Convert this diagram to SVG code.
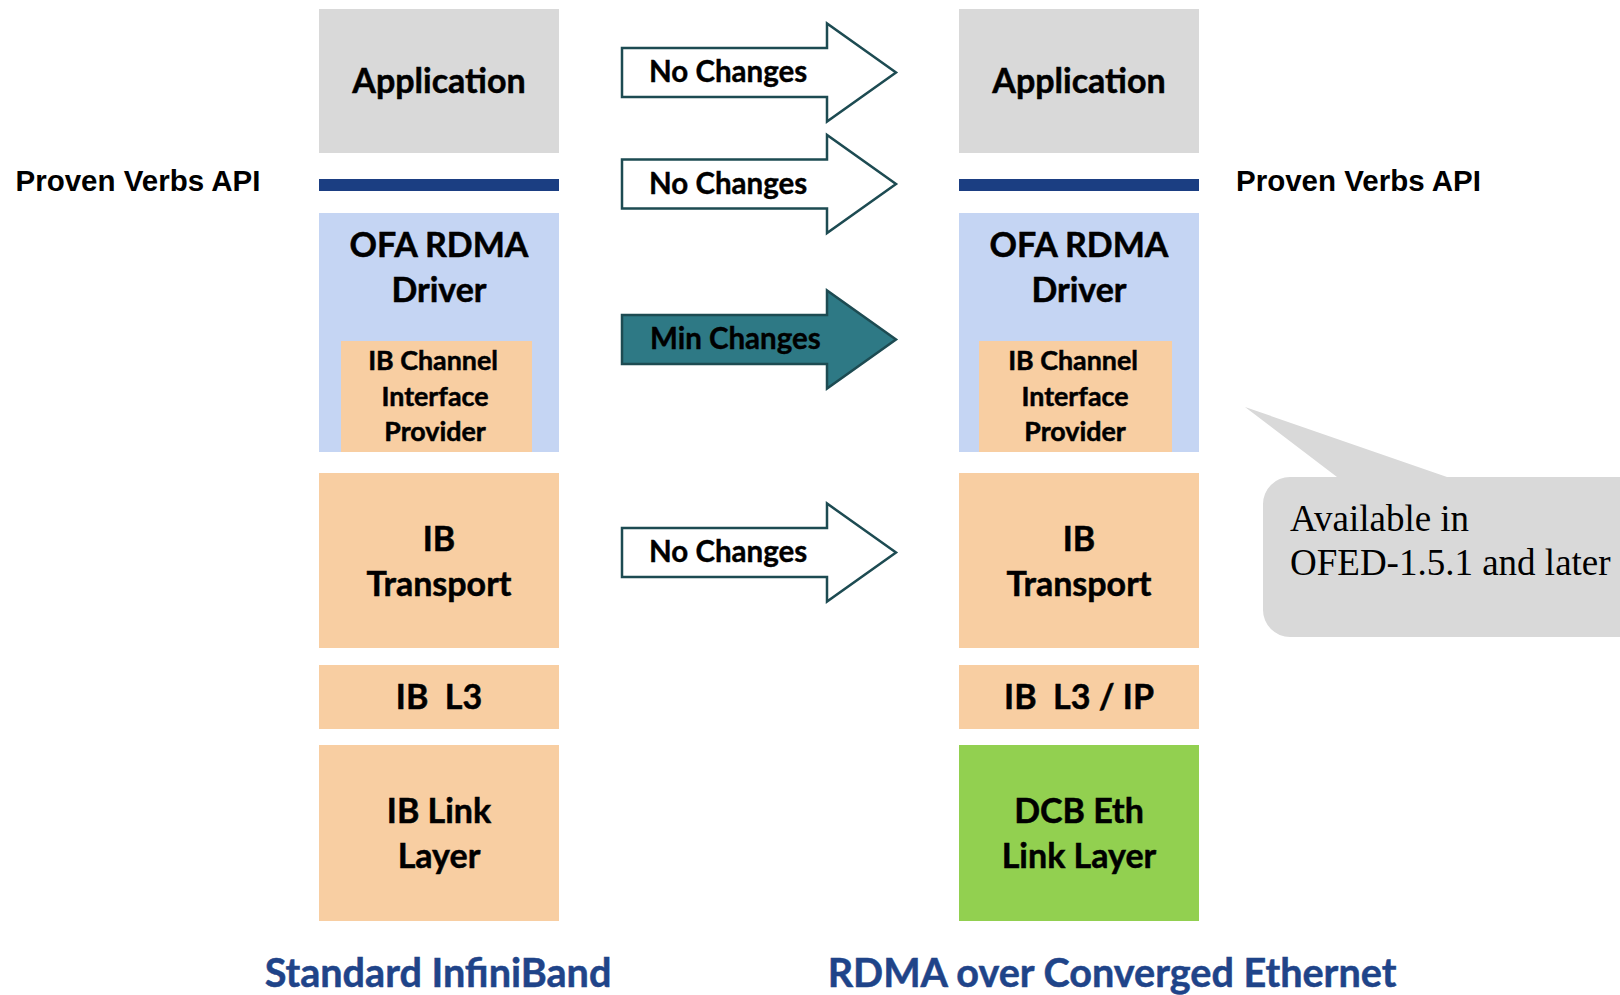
<svg xmlns="http://www.w3.org/2000/svg" width="1620" height="995" viewBox="0 0 1620 995">
  <style>
    .lbl { font-family: Lato, "Open Sans", sans-serif; font-weight: 700; fill: #000; stroke: #000; stroke-width: 0.5; text-anchor: middle; }
    .big { font-size: 34px; }
    .small { font-size: 26.8px; }
    .arw { font-family: Lato, "Open Sans", sans-serif; font-weight: 700; font-size: 29.5px; fill: #000; stroke: #000; stroke-width: 0.4; }
    .api { font-family: "Liberation Sans", Arial, sans-serif; font-weight: 700; font-size: 29.5px; fill: #000; }
    .cap { font-family: Lato, "Open Sans", sans-serif; font-weight: 700; font-size: 39.6px; fill: #1F4489; stroke: #1F4489; stroke-width: 0.5; text-anchor: middle; }
    .note { font-family: "Liberation Serif", "Times New Roman", serif; font-size: 37px; fill: #000; }
    .gray { fill: #D9D9D9; }
    .blue { fill: #C5D5F3; }
    .peach { fill: #F8CEA2; }
    .green { fill: #92D050; }
    .bar { fill: #1B3E82; }
    .open { fill: #FFFFFF; stroke: #1D4B52; stroke-width: 2.5; }
    .solid { fill: #2E7985; stroke: #1D4B52; stroke-width: 2.5; }
  </style>
  <defs>
    <!-- block arrow centred on y=0 -->
    <path id="blockArrow" d="M622,-24.5 L827,-24.5 L827,-49 L896,0 L827,49 L827,24.5 L622,24.5 Z"/>
  </defs>

  <!-- API labels -->
  <text class="api" x="15.5" y="191">Proven Verbs API</text>
  <text class="api" x="1236" y="191">Proven Verbs API</text>

  <!-- Standard InfiniBand stack -->
  <g id="ib-application">
    <rect class="gray" x="319" y="9" width="240" height="144"/>
    <text class="lbl big" x="439" y="93">Application</text>
  </g>
  <g id="ib-verbs-bar">
    <rect class="bar" x="319" y="179" width="240" height="12"/>
  </g>
  <g id="ib-ofa-driver">
    <rect class="blue" x="319" y="213" width="240" height="239"/>
    <text class="lbl big" x="439" y="257">OFA RDMA</text>
    <text class="lbl big" x="439" y="302">Driver</text>
  </g>
  <g id="ib-channel-provider">
    <rect class="peach" x="341" y="341" width="191" height="111"/>
    <text class="lbl small" x="433" y="370">IB Channel</text>
    <text class="lbl small" x="435" y="406">Interface</text>
    <text class="lbl small" x="435" y="441">Provider</text>
  </g>
  <g id="ib-transport">
    <rect class="peach" x="319" y="473" width="240" height="175"/>
    <text class="lbl big" x="439" y="551">IB</text>
    <text class="lbl big" x="439" y="596">Transport</text>
  </g>
  <g id="ib-l3">
    <rect class="peach" x="319" y="665" width="240" height="64"/>
    <text class="lbl big" x="439" y="709" xml:space="preserve">IB  L3</text>
  </g>
  <g id="ib-link-layer">
    <rect class="peach" x="319" y="745" width="240" height="176"/>
    <text class="lbl big" x="439" y="823">IB Link</text>
    <text class="lbl big" x="439" y="868">Layer</text>
  </g>

  <!-- RoCE stack -->
  <g id="roce-application">
    <rect class="gray" x="959" y="9" width="240" height="144"/>
    <text class="lbl big" x="1079" y="93">Application</text>
  </g>
  <g id="roce-verbs-bar">
    <rect class="bar" x="959" y="179" width="240" height="12"/>
  </g>
  <g id="roce-ofa-driver">
    <rect class="blue" x="959" y="213" width="240" height="239"/>
    <text class="lbl big" x="1079" y="257">OFA RDMA</text>
    <text class="lbl big" x="1079" y="302">Driver</text>
  </g>
  <g id="roce-channel-provider">
    <rect class="peach" x="979" y="341" width="193" height="111"/>
    <text class="lbl small" x="1073" y="370">IB Channel</text>
    <text class="lbl small" x="1075" y="406">Interface</text>
    <text class="lbl small" x="1075" y="441">Provider</text>
  </g>
  <g id="roce-transport">
    <rect class="peach" x="959" y="473" width="240" height="175"/>
    <text class="lbl big" x="1079" y="551">IB</text>
    <text class="lbl big" x="1079" y="596">Transport</text>
  </g>
  <g id="roce-l3-ip">
    <rect class="peach" x="959" y="665" width="240" height="64"/>
    <text class="lbl big" x="1079" y="709" xml:space="preserve">IB  L3 / IP</text>
  </g>
  <g id="roce-link-layer">
    <rect class="green" x="959" y="745" width="240" height="176"/>
    <text class="lbl big" x="1079" y="823">DCB Eth</text>
    <text class="lbl big" x="1079" y="868">Link Layer</text>
  </g>

  <!-- change arrows between the stacks -->
  <g id="connectors">
    <use href="#blockArrow" class="open" transform="translate(0,72.5)"/>
    <text class="arw" x="649" y="82">No Changes</text>
    <use href="#blockArrow" class="open" transform="translate(0,184)"/>
    <text class="arw" x="649" y="194">No Changes</text>
    <use href="#blockArrow" class="solid" transform="translate(0,339.5)"/>
    <text class="arw" x="650" y="349">Min Changes</text>
    <use href="#blockArrow" class="open" transform="translate(0,552.5)"/>
    <text class="arw" x="649" y="562">No Changes</text>
  </g>

  <!-- callout -->
  <g id="callout">
    <path class="gray" d="M1290,477 L1337,477 L1245,407 L1447,477 L1660,477 L1660,637 L1290,637 A27,27 0 0 1 1263,610 L1263,504 A27,27 0 0 1 1290,477 Z"/>
    <text class="note" x="1290" y="531">Available in</text>
    <text class="note" x="1290" y="575">OFED-1.5.1 and later</text>
  </g>

  <!-- column captions -->
  <text class="cap" x="438" y="987">Standard InfiniBand</text>
  <text class="cap" x="1112" y="987">RDMA over Converged Ethernet</text>
</svg>
